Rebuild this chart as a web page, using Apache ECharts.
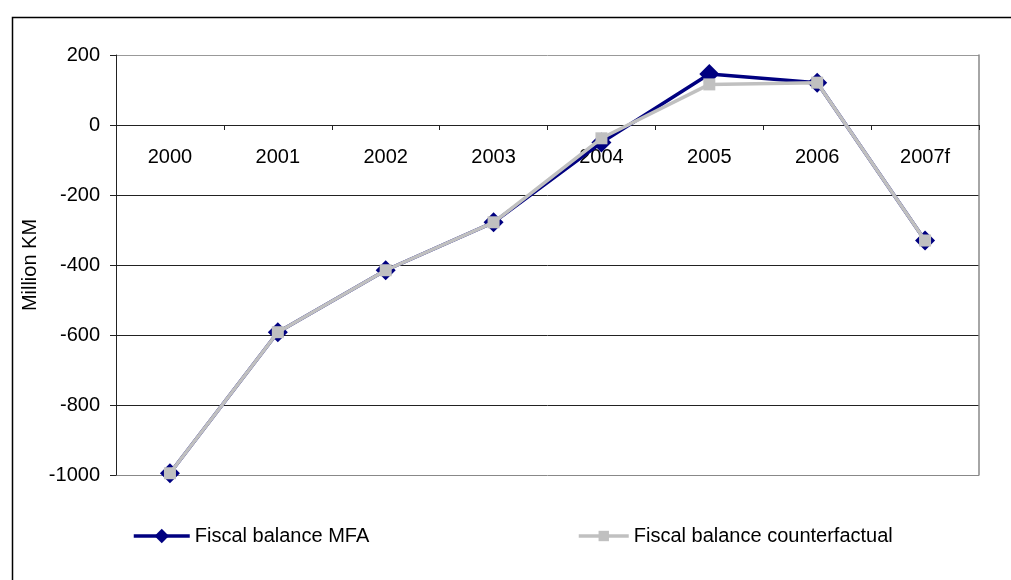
<!DOCTYPE html>
<html>
<head>
<meta charset="utf-8">
<script src="https://cdn.jsdelivr.net/npm/echarts@6.0.0/dist/echarts.min.js"></script>
<style>
    html, body { margin: 0; padding: 0; background: #fff; }
    #chart { width: 1011px; height: 580px; }
</style>
</head>
<body>
<div id="chart"></div>
<script>
const years = ["2000", "2001", "2002", "2003", "2004", "2005", "2006", "2007f"];
const balanceMFA = [-995, -592, -415, -278, -50, 146, 121, -330];
const balanceCounterfactual = [-995, -592, -415, -278, -38, 116, 121, -330];

const fontFamily = "Liberation Sans, Arial, sans-serif";

let chart = echarts.init(document.getElementById("chart"), null, { renderer: "canvas" });

chart.setOption({
    animation: false,
    textStyle: {
        fontFamily: fontFamily,
        color: "#000",
    },
    graphic: [
        {
            type: "rect",
            shape: { x: 12.5, y: 17.5, width: 1010, height: 600 },
            style: { fill: "none", stroke: "#000", lineWidth: 1.5 },
            silent: true,
        },
    ],
    grid: {
        left: 116,
        right: 32,
        top: 55,
        bottom: 105,
        containLabel: false,
    },
    legend: [
        {
            left: 127,
            top: 521,
            itemWidth: 56,
            itemHeight: 18,
            itemGap: 6,
            data: ["Fiscal balance MFA"],
            lineStyle: { width: 3.5 },
            textStyle: { fontSize: 20, color: "#000", fontFamily: fontFamily },
        },
        {
            left: 572,
            top: 521,
            itemWidth: 50,
            itemHeight: 13,
            data: ["Fiscal balance counterfactual"],
            lineStyle: { width: 3.5 },
            textStyle: { fontSize: 20, color: "#000", fontFamily: fontFamily },
        },
    ],
    xAxis: {
        type: "category",
        data: years,
        boundaryGap: true,
        // axis sits on the zero line, labels just below it
        offset: -350,
        axisLine: {
            onZero: false,
            lineStyle: { color: "#222", width: 1 },
        },
        axisTick: {
            show: true,
            length: 5,
            lineStyle: { color: "#222" },
        },
        axisLabel: {
            fontSize: 20,
            color: "#000",
            margin: 22,
        },
    },
    yAxis: [
        {
            type: "value",
            min: -1000,
            max: 200,
            interval: 200,
            name: "Million KM",
            nameLocation: "middle",
            nameRotate: 90,
            nameGap: 76,
            nameMoveOverlap: false,
            nameTextStyle: { fontSize: 20, color: "#000" },
            axisLine: {
                show: true,
                lineStyle: { color: "#222", width: 1 },
            },
            axisTick: {
                show: true,
                length: 6,
                lineStyle: { color: "#222" },
            },
            axisLabel: {
                fontSize: 20,
                color: "#000",
                margin: 16,
                formatter: (value) => value.toString(),
            },
            splitLine: {
                show: true,
                lineStyle: {
                    color: ["#888", "#222", "#222", "#222", "#222", "#222", "#999"],
                    width: 1,
                },
            },
        },
        {
            type: "value",
            position: "right",
            min: -1000,
            max: 200,
            interval: 200,
            axisLine: {
                show: true,
                lineStyle: { color: "#888", width: 1.5 },
            },
            axisTick: { show: false },
            axisLabel: { show: false },
            splitLine: { show: false },
        },
    ],
    series: [
        {
            name: "Fiscal balance MFA",
            type: "line",
            data: balanceMFA,
            symbol: "diamond",
            symbolSize: 20,
            lineStyle: { color: "#000080", width: 3.5 },
            itemStyle: { color: "#000080" },
            z: 2,
        },
        {
            name: "Fiscal balance counterfactual",
            type: "line",
            data: balanceCounterfactual,
            symbol: "rect",
            symbolSize: 12,
            lineStyle: { color: "#c0c0c0", width: 3.5 },
            itemStyle: { color: "#c0c0c0" },
            z: 3,
        },
    ],
});
</script>
</body>
</html>
